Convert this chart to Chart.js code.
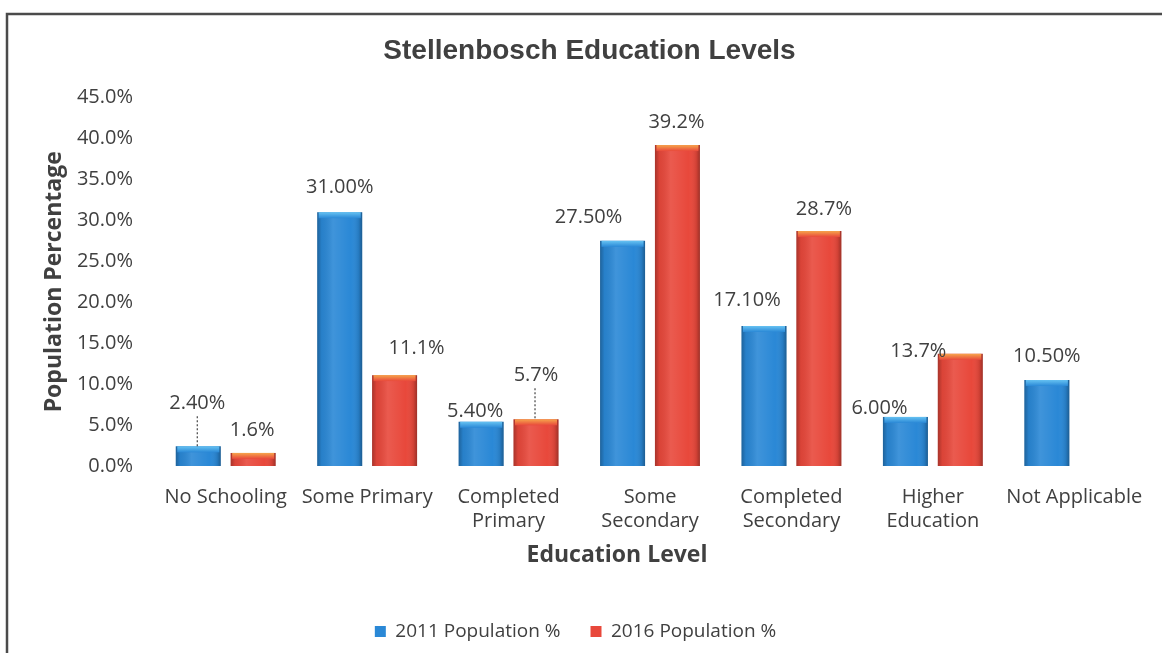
<!DOCTYPE html>
<html>
<head>
<meta charset="utf-8">
<title>Stellenbosch Education Levels</title>
<script src="https://cdn.jsdelivr.net/npm/chart.js@4.4.1/dist/chart.umd.min.js"></script>
<style>
  body { margin: 0; background: #fff; }
  #wrap { width: 1162px; height: 653px; }
</style>
</head>
<body>
<div id="wrap"><canvas id="edu-chart" width="1162" height="653"></canvas></div>
<script>
// categories and values
const educationLevels = [
    "No Schooling",
    "Some Primary",
    ["Completed", "Primary"],
    ["Some", "Secondary"],
    ["Completed", "Secondary"],
    ["Higher", "Education"],
    "Not Applicable"
];
const population2011 = [2.4, 31.0, 5.4, 27.5, 17.1, 6.0, 10.5];
const population2016 = [1.6, 11.1, 5.7, 39.2, 28.7, 13.7, null];
const seriesNames = ["2011 Population %", "2016 Population %"];
const yTicks = [0, 5, 10, 15, 20, 25, 30, 35, 40, 45];

const textColor = "#404040";
const numFont = "'Open Sans', 'Noto Sans', sans-serif";

// per series look: base fill, top cap colour, decimals on the value label
const seriesStyle = [
    { fill: "#2a88d6", cap: "#66c2f2", decimals: 2 },
    { fill: "#e8483b", cap: "#f6a54c", decimals: 1 }
];

// hand-placed value labels: "dataset-index": [dx, extra lift, leader line]
const labelNudge = {
    "0-0": [-1, 19, true],
    "1-0": [-1, -1],
    "0-1": [0, 1],
    "1-1": [22, 3],
    "0-2": [-6, -14],
    "1-2": [0, 20, true],
    "0-3": [-34, 0],
    "1-3": [-1, -1],
    "0-4": [-17, 2],
    "1-4": [5, -2],
    "0-5": [-26, -15],
    "1-5": [-42, -21],
    "0-6": [0, 0]
};

// frame line on the left and top edges
const framePlugin = {
    id: "frame",
    beforeDraw: (chart) => {
        const ctx = chart.ctx;
        ctx.save();
        ctx.fillStyle = "#fff";
        ctx.fillRect(0, 0, chart.width, chart.height);
        ctx.strokeStyle = "#4b4b4b";
        ctx.lineWidth = 2.5;
        ctx.beginPath();
        ctx.moveTo(7, chart.height);
        ctx.lineTo(7, 14);
        ctx.lineTo(chart.width, 14);
        ctx.stroke();
        ctx.restore();
    }
};

// legend sits a bit left of the plot centre
const legendShiftPlugin = {
    id: "legendShift",
    afterLayout: (chart) => {
        chart.legend.left -= 14;
        chart.legend.right -= 14;
    }
};

// x axis title, slightly left of the plot centre
const xTitlePlugin = {
    id: "xTitle",
    afterDraw: (chart) => {
        const ctx = chart.ctx;
        ctx.save();
        ctx.font = "bold 23px " + numFont;
        ctx.fillStyle = textColor;
        ctx.textAlign = "center";
        ctx.textBaseline = "middle";
        ctx.fillText("Education Level", chart.chartArea.left + 462, chart.chartArea.bottom + 89);
        ctx.restore();
    }
};

// cylinder shading + cap on each bar, then the value labels
const barDecorPlugin = {
    id: "barDecor",
    afterDatasetsDraw: (chart) => {
        const ctx = chart.ctx;
        ctx.save();
        chart.data.datasets.forEach((ds, di) => {
            const meta = chart.getDatasetMeta(di);
            const style = seriesStyle[di];
            meta.data.forEach((bar, i) => {
                const value = ds.data[i];
                if (value === null || value === undefined) return;
                const { x, y, base, width } = bar.getProps(["x", "y", "base", "width"], true);
                const left = x - width / 2;
                const h = base - y;

                // side-to-side shading
                const g = ctx.createLinearGradient(left, 0, left + width, 0);
                g.addColorStop(0, "rgba(0,0,0,0.28)");
                g.addColorStop(0.1, "rgba(0,0,0,0.06)");
                g.addColorStop(0.35, "rgba(255,255,255,0.10)");
                g.addColorStop(0.75, "rgba(255,255,255,0.0)");
                g.addColorStop(0.92, "rgba(0,0,0,0.10)");
                g.addColorStop(1, "rgba(0,0,0,0.32)");
                ctx.fillStyle = g;
                ctx.fillRect(left, y, width, h);

                // lighter cap on top
                const capH = Math.min(6, h);
                const cg = ctx.createLinearGradient(0, y, 0, y + capH);
                cg.addColorStop(0, style.cap);
                cg.addColorStop(1, style.fill);
                ctx.fillStyle = cg;
                ctx.fillRect(left + 1.5, y, width - 3, capH);

                // value label
                const [dx, lift, leader] = labelNudge[di + "-" + i] || [0, 0];
                const ly = y - 24 - lift;
                ctx.font = "20px " + numFont;
                ctx.fillStyle = textColor;
                ctx.textAlign = "center";
                ctx.textBaseline = "middle";
                ctx.fillText(value.toFixed(style.decimals) + "%", x + dx, ly);

                if (leader) {
                    ctx.strokeStyle = "#444";
                    ctx.lineWidth = 1.2;
                    ctx.setLineDash([2, 2]);
                    ctx.beginPath();
                    ctx.moveTo(x - 1, ly + 13);
                    ctx.lineTo(x - 1, y);
                    ctx.stroke();
                    ctx.setLineDash([]);
                }
            });
        });
        ctx.restore();
    }
};

const ctx = document.getElementById("edu-chart").getContext("2d");
const eduChart = new Chart(ctx, {
    type: "bar",
    data: {
        labels: educationLevels,
        datasets: [
            {
                label: seriesNames[0],
                data: population2011,
                backgroundColor: seriesStyle[0].fill,
                categoryPercentage: 0.776,
                barPercentage: 0.82
            },
            {
                label: seriesNames[1],
                data: population2016,
                backgroundColor: seriesStyle[1].fill,
                categoryPercentage: 0.776,
                barPercentage: 0.82
            }
        ]
    },
    options: {
        responsive: false,
        animation: false,
        layout: {
            padding: { top: 0, left: 28, right: 11, bottom: 2 }
        },
        plugins: {
            title: {
                display: true,
                text: "Stellenbosch Education Levels",
                color: textColor,
                font: { family: "'Liberation Sans', Arial, sans-serif", size: 28, weight: "bold" },
                padding: { top: 34, bottom: 30 }
            },
            legend: {
                position: "bottom",
                labels: {
                    color: textColor,
                    font: { family: numFont, size: 19 },
                    boxWidth: 11,
                    boxHeight: 11,
                    padding: 30
                }
            },
            tooltip: { enabled: false }
        },
        scales: {
            x: {
                grid: { display: false, drawTicks: false },
                border: { display: false },
                afterFit: (scale) => { scale.height = 126; },
                ticks: {
                    color: textColor,
                    font: { family: numFont, size: 20, lineHeight: 1.2 },
                    padding: 19,
                    maxRotation: 0,
                    autoSkip: false
                }
            },
            y: {
                min: 0,
                max: 45,
                grid: { display: false, drawTicks: false },
                border: { display: false },
                afterFit: (scale) => { scale.width = 127; },
                afterBuildTicks: (scale) => {
                    scale.ticks = yTicks.map((v) => ({ value: v }));
                },
                ticks: {
                    color: textColor,
                    font: { family: numFont, size: 20 },
                    padding: 22,
                    callback: (v) => v.toFixed(1) + "%"
                },
                title: {
                    display: true,
                    text: "Population Percentage",
                    color: textColor,
                    font: { family: numFont, size: 23, weight: "bold" },
                    padding: { top: 13, bottom: 8 }
                }
            }
        }
    },
    plugins: [framePlugin, legendShiftPlugin, xTitlePlugin, barDecorPlugin]
});
</script>
</body>
</html>
